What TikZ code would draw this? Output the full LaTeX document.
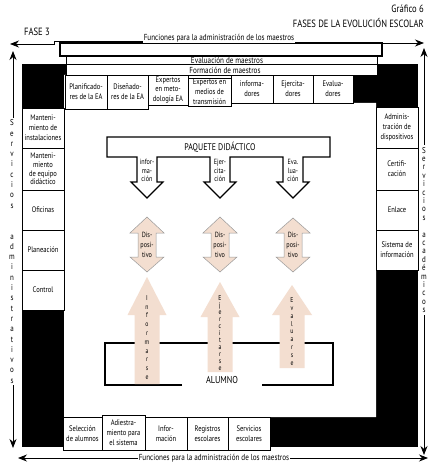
\documentclass[tikz,border=0pt]{standalone}
\usepackage{fontspec}
\setmainfont{PT Sans}[FakeStretch=0.82]
\usepackage{tikz}
\usetikzlibrary{arrows.meta, positioning}
\tikzset{>={Stealth[length=9pt,width=7pt]}}
\definecolor{padpink}{HTML}{F3DED0}
\definecolor{padgray}{HTML}{9A9A9A}
\tikzset{
  cell/.style={draw, fill=white, line width=0.8pt, align=center, inner sep=0pt,
    font=\fontsize{8}{9.8}\selectfont},
  band/.style={fill=white, inner sep=1pt, font=\fontsize{8.7}{9}\selectfont},
  headline/.style={inner sep=0pt, font=\fontsize{10.5}{12}\selectfont},
  inarrow/.style={align=center, inner sep=0pt, font=\fontsize{7.5}{8.5}\selectfont},
}

\begin{document}
\begin{tikzpicture}[x=1pt,y=-1pt]
			\useasboundingbox (0,0) rectangle (434,462);
			% titles
			\node[headline, anchor=east] (grafico) at (424,9) {Gráfico 6};
			\node[headline, anchor=east] (fases) at (424,23) {FASES DE LA EVOLUCIÓN ESCOLAR};
			\node[headline] (fase3) at (37,32) {FASE 3};
			% black frame and white field
			\fill[black] (22,64) rectangle (418,447);
			\fill[white] (64,75) -- (353,75) -- (353,103) -- (376,103) -- (376,417) -- (64,417) -- cycle;
			% maestros bands
			\draw[fill=white, line width=0.8pt] (66,56) rectangle (377,64);
			\draw[fill=white, line width=0.8pt] (66,64) rectangle (377,75);
			\node[band] (evalm) at (227,60) {Evaluación de maestros};
			\node[band] (formm) at (225,70.5) {Formación de maestros};
			\draw[fill=white, line width=1.2pt] (60,43) rectangle (382,56);
			% outer arrows
			\node[band] (funtop) at (219,38) {Funciones para la administración de los maestros};
			\coordinate (tl) at (10,44);
			\coordinate (tr) at (424,43);
			\draw[->, line width=0.8pt] (funtop.west |- 0,41) -- (54,41) -- (54,44) -- (tl);
			\draw[->, line width=0.8pt] (funtop.east |- tr) -- (tr);
			\coordinate (bl) at (18,458);
			\coordinate (br) at (428,458);
			\node[band] (funbot) at (214,458) {Funciones para la administración de los maestros};
			\draw[->, line width=0.8pt] (funbot) -- (bl);
			\draw[->, line width=0.8pt] (funbot) -- (br);
			\coordinate (lvt) at (13,51);
			\coordinate (lvb) at (13,448);
			\draw[<->, line width=0.8pt] (lvt) -- (lvb);
			\node[band, align=center, inner sep=2pt, font=\fontsize{8.5}{10.3}\selectfont] (servadm) at (12,251.5)
				{S\\e\\r\\v\\i\\c\\i\\o\\s\\[20.6pt]a\\d\\m\\i\\n\\i\\s\\t\\r\\a\\t\\i\\v\\o\\s};
			\coordinate (rvt) at (424,48);
			\coordinate (rvb) at (424,455);
			\draw[<->, line width=0.8pt] (rvt) -- (rvb);
			\node[band, align=center, inner sep=2pt, font=\fontsize{8.5}{8.4}\selectfont] (servacad) at (424,230)
				{S\\e\\r\\v\\i\\c\\i\\o\\s\\[8.4pt]a\\c\\a\\d\\é\\m\\i\\c\\o\\s};
			% top row
			\node[cell, minimum width=42pt, minimum height=34pt] (planif) at (86,92) {Planificado-\\res de la EA};
			\node[cell, minimum width=41pt, minimum height=34pt] (disen) at (127.5,92) {Diseñado-\\res de la EA};
			\node[cell, minimum width=40pt, minimum height=30pt] (metod) at (168,90) {Expertos\\en meto-\\dología EA};
			\node[cell, minimum width=43pt, minimum height=28pt] (medios) at (209.5,92) {Expertos en\\medios de\\transmisión};
			\node[cell, minimum width=42pt, minimum height=28pt] (inform) at (252,89) {informa-\\dores};
			\node[cell, minimum width=40pt, minimum height=28pt] (ejerc) at (293,89) {Ejercita-\\dores};
			\node[cell, minimum width=40pt, minimum height=28pt] (evalu) at (333,89) {Evalua-\\dores};
			% left column
			\node[cell, minimum width=42pt, minimum height=40pt] (mantinst) at (43,128) {Manteni-\\miento de\\instalaciones};
			\node[cell, minimum width=42pt, minimum height=42pt, font=\fontsize{8}{8.8}\selectfont] (manteq) at (43,169) {Manteni-\\miento\\de equipo\\didáctico};
			\node[cell, minimum width=42pt, minimum height=40pt] (oficinas) at (43,210) {Oficinas};
			\node[cell, minimum width=42pt, minimum height=40pt] (planea) at (43,250) {Planeación};
			\node[cell, minimum width=42pt, minimum height=40pt] (control) at (43,290) {Control};
			% right column
			\node[cell, minimum width=42pt, minimum height=41pt] (admdisp) at (397,127.5) {Adminis-\\tración de\\dispositivos};
			\node[cell, minimum width=42pt, minimum height=42pt] (certif) at (397,169) {Certifi-\\cación};
			\node[cell, minimum width=42pt, minimum height=40pt] (enlace) at (397,210) {Enlace};
			\node[cell, minimum width=42pt, minimum height=40pt] (sisinfo) at (397,250) {Sistema de\\información};
			% bottom row
			\node[cell, minimum width=39pt, minimum height=33pt] (selec) at (82.5,433.5) {Selección\\de alumnos};
			\node[cell, minimum width=43pt, minimum height=35pt] (adiest) at (123.5,432.5) {Adiestra-\\miento para\\el sistema};
			\node[cell, minimum width=42pt, minimum height=33pt] (infbot) at (166,433.5) {Infor-\\mación};
			\node[cell, minimum width=41pt, minimum height=33pt] (regist) at (207.5,433.5) {Registros\\escolares};
			\node[cell, minimum width=42pt, minimum height=33pt] (servesc) at (249,433.5) {Servicios\\escolares};
			% paquete didactico
			\draw[fill=white, line width=1.1pt] (107,137) -- (330,137) -- (330,157) -- (303,157) -- (303,182) -- (309,182) -- (293,198) -- (277,182) -- (283,182) -- (283,157) -- (230,157) -- (230,182) -- (236,182) -- (220,198) -- (204,182) -- (210,182) -- (210,157) -- (157,157) -- (157,182) -- (163,182) -- (147,198) -- (131,182) -- (137,182) -- (137,157) -- (107,157) -- cycle;
			\node[inner sep=0pt, font=\fontsize{9.6}{10}\selectfont] (paq) at (220,147) {PAQUETE DIDÁCTICO};
			\node[inarrow] (infarr) at (147,170.5) {infor-\\ma-\\ción};
			\node[inarrow] (ejarr) at (220,170.5) {Ejer-\\cita-\\ción};
			\node[inarrow] (evarr) at (293,170.5) {Eva.\\lua-\\ción};
			% dispositivos
			\draw[fill=padpink, draw=padgray, line width=0.5pt] (147,217) -- (164,233) -- (156,233) -- (156,257) -- (164,257) -- (147,272) -- (130,257) -- (138,257) -- (138,233) -- (130,233) -- cycle;
			\draw[fill=padpink, draw=padgray, line width=0.5pt] (220,217) -- (237,233) -- (229,233) -- (229,257) -- (237,257) -- (220,272) -- (203,257) -- (211,257) -- (211,233) -- (203,233) -- cycle;
			\draw[fill=padpink, draw=padgray, line width=0.5pt] (293,218) -- (310,233) -- (302,233) -- (302,257) -- (310,257) -- (293,272) -- (276,257) -- (284,257) -- (284,233) -- (276,233) -- cycle;
			\node[inarrow, font=\fontsize{7.5}{10}\selectfont] (disp1) at (147,245) {Dis-\\posi-\\tivo};
			\node[inarrow, font=\fontsize{7.5}{10}\selectfont] (disp2) at (220,245) {Dis-\\posi-\\tivo};
			\node[inarrow, font=\fontsize{7.5}{10}\selectfont] (disp3) at (293,245) {Dis-\\posi-\\tivo};
			% alumno
			\draw[line width=1.1pt] (182,385) -- (105,385) -- (105,343) -- (333,343) -- (333,385) -- (262,385);
			\node[inner sep=0pt, font=\fontsize{10}{11}\selectfont] (alumno) at (222,380) {ALUMNO};
			\fill[padpink] (147,277) -- (166.5,315) -- (159.5,315) -- (159.5,384) -- (134.5,384) -- (134.5,315) -- (127.5,315) -- cycle;
			\fill[padpink] (220,282) -- (239.5,317) -- (232.5,317) -- (232.5,372) -- (207.5,372) -- (207.5,317) -- (200.5,317) -- cycle;
			\fill[padpink] (292,285) -- (312,315) -- (304.5,315) -- (304.5,368) -- (279.5,368) -- (279.5,315) -- (272,315) -- cycle;
			\node[inarrow, font=\fontsize{7}{8.8}\selectfont] (informarse) at (147,337.5) {I\\n\\f\\o\\r\\m\\a\\r\\s\\e};
			\node[inarrow, font=\fontsize{7}{7}\selectfont] (ejercitarse) at (220,333) {E\\j\\e\\r\\c\\i\\t\\a\\r\\s\\e};
			\node[inarrow, font=\fontsize{7}{7.9}\selectfont] (evaluarse) at (292,331.5) {E\\v\\a\\l\\u\\a\\r\\s\\e};
		\end{tikzpicture}
\end{document}
